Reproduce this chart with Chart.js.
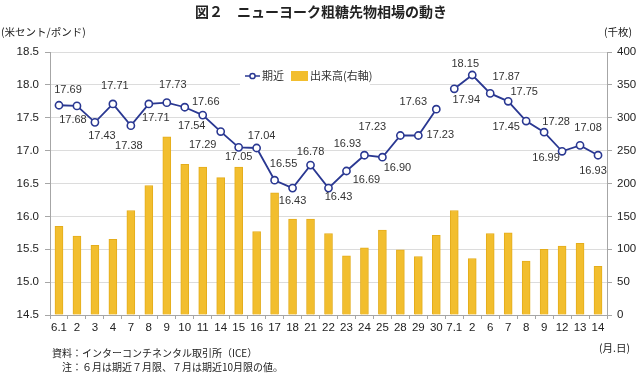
<!DOCTYPE html>
<html>
<head>
<meta charset="utf-8">
<script src="https://cdn.jsdelivr.net/npm/chart.js@4/dist/chart.umd.min.js"></script>
<style>
  body { margin: 0; background: #fff; }
  canvas { display: block; }
</style>
</head>
<body>
<canvas id="chart" width="640" height="377"></canvas>
<script>
// 日付（月.日）
const dates = ['6.1', '2', '3', '4', '7', '8', '9', '10', '11', '14', '15', '16', '17', '18', '21',
  '22', '23', '24', '25', '28', '29', '30', '7.1', '2', '6', '7', '8', '9', '12', '13', '14'];

// 期近（米セント/ポンド）
const nearby = [17.69, 17.68, 17.43, 17.71, 17.38, 17.71, 17.73, 17.66, 17.54, 17.29, 17.05, 17.04,
  16.55, 16.43, 16.78, 16.43, 16.69, 16.93, 16.90, 17.23, 17.23, 17.63,
  17.94, 18.15, 17.87, 17.75, 17.45, 17.28, 16.99, 17.08, 16.93];

// 出来高（千枚、右軸）
const volume = [135, 120, 106, 115, 159, 197, 271, 229, 225, 209, 225, 127, 186, 146, 146,
  124, 90, 102, 129, 99, 89, 121, 159, 86, 124, 125, 82, 100, 105, 109, 74];

// 限月が切り替わる位置（この点の後で線を切る）
const breakAfter = 21;

// ラベルの位置（点からのずれ）
const labelOffsets = [
  [9, -15], [-4, 14], [7, 14], [2, -18], [-2, 20], [7, 14], [6, -18], [21, -5], [-11, 11], [-18, 13],
  [0, 10], [5, -12], [9, -16], [0, 13], [0, -13], [10, 9], [20, 9], [-17, -11], [15, 11], [-28, -9],
  [22, -1], [-23, -7], [12, 11], [-7, -11], [16, -16], [16, -9], [-20, 6], [12, -10], [-16, 7], [8, -17],
  [-5, 16]
];

const blue = '#2A3892';
const gold = '#F2BE2E';
const numFont = '"Liberation Sans", Arial, sans-serif';
const jpFont = '"Noto Sans CJK JP", sans-serif';

const pointLabels = {
  id: 'pointLabels',
  afterDatasetsDraw(chart) {
    const ctx = chart.ctx;
    const meta = chart.getDatasetMeta(1);
    ctx.save();
    ctx.font = '11px ' + numFont;
    ctx.fillStyle = '#333';
    ctx.textAlign = 'center';
    ctx.textBaseline = 'middle';
    meta.data.forEach((pt, i) => {
      const off = labelOffsets[i];
      ctx.fillText(nearby[i].toFixed(2), pt.x + off[0], pt.y + off[1]);
    });
    ctx.restore();
  }
};

const legendBox = {
  id: 'legendBox',
  beforeDatasetsDraw(chart) {
    const ctx = chart.ctx;
    ctx.save();
    ctx.fillStyle = '#fff';
    ctx.fillRect(240, 64, 130, 23);
    // 期近
    ctx.strokeStyle = blue;
    ctx.lineWidth = 1.5;
    ctx.beginPath();
    ctx.moveTo(245, 76);
    ctx.lineTo(260, 76);
    ctx.stroke();
    ctx.beginPath();
    ctx.arc(252.5, 76, 2.6, 0, Math.PI * 2);
    ctx.fillStyle = '#fff';
    ctx.fill();
    ctx.stroke();
    ctx.fillStyle = '#333';
    ctx.font = '11px ' + jpFont;
    ctx.textBaseline = 'middle';
    ctx.fillText('期近', 262, 76);
    // 出来高
    ctx.fillStyle = gold;
    ctx.fillRect(291, 71, 17, 10);
    ctx.fillStyle = '#333';
    ctx.fillText('出来高(右軸)', 310, 76);
    ctx.restore();
  }
};

const texts = {
  id: 'texts',
  afterDraw(chart) {
    const ctx = chart.ctx;
    ctx.save();
    ctx.fillStyle = '#222';
    ctx.textBaseline = 'middle';
    ctx.textAlign = 'center';
    ctx.font = 'bold 14px ' + jpFont;
    ctx.fillText('図２　ニューヨーク粗糖先物相場の動き', 321, 12);
    ctx.font = '10.5px ' + jpFont;
    ctx.textAlign = 'left';
    ctx.fillText('(米セント/ポンド)', 1, 32);
    ctx.textAlign = 'right';
    ctx.fillText('(千枚)', 632, 32);
    ctx.fillText('(月.日)', 630, 348);
    ctx.textAlign = 'left';
    ctx.font = '10px ' + jpFont;
    ctx.fillText('資料：インターコンチネンタル取引所（ICE）', 52, 353);
    ctx.fillText('注：６月は期近７月限、７月は期近10月限の値。', 62, 367);
    ctx.restore();
  }
};

new Chart(document.getElementById('chart'), {
  data: {
    labels: dates,
    datasets: [{
      type: 'bar',
      label: '出来高(右軸)',
      data: volume,
      yAxisID: 'y1',
      backgroundColor: gold,
      borderColor: '#E4AD1C',
      borderWidth: 1,
      barThickness: 8,
      order: 1
    }, {
      type: 'line',
      label: '期近',
      data: nearby,
      yAxisID: 'y',
      borderColor: blue,
      borderWidth: 1.8,
      pointRadius: 3.6,
      pointBorderWidth: 1.6,
      pointBackgroundColor: '#fff',
      pointBorderColor: blue,
      tension: 0,
      segment: {
        borderColor: c => c.p0DataIndex === breakAfter ? 'rgba(0,0,0,0)' : blue
      },
      order: 0
    }]
  },
  options: {
    responsive: false,
    animation: false,
    layout: { padding: { top: 52, left: 0, right: 0, bottom: 0 } },
    scales: {
      x: {
        offset: true,
        grid: {
          offset: true,
          drawOnChartArea: false,
          tickLength: 4,
          color: '#A6A6A6'
        },
        border: { color: '#A6A6A6' },
        ticks: {
          autoSkip: false,
          maxRotation: 0,
          padding: 2,
          color: '#222',
          font: { family: numFont, size: 11.5 }
        },
        afterFit: s => { s.height = 62; }
      },
      y: {
        position: 'left',
        min: 14.5,
        max: 18.5,
        ticks: {
          stepSize: 0.5,
          padding: 6,
          color: '#222',
          font: { family: numFont, size: 11.5 },
          callback: v => v.toFixed(1)
        },
        grid: {
          color: '#DCDCDC',
          tickColor: '#A6A6A6',
          tickLength: 5
        },
        border: { color: '#A6A6A6' },
        afterFit: s => { s.width = 50; }
      },
      y1: {
        position: 'right',
        min: 0,
        max: 400,
        ticks: {
          stepSize: 50,
          padding: 5,
          color: '#222',
          font: { family: numFont, size: 11.5 }
        },
        grid: {
          drawOnChartArea: false,
          tickColor: '#A6A6A6',
          tickLength: 5
        },
        border: { color: '#A6A6A6' },
        afterFit: s => { s.width = 33; }
      }
    },
    plugins: {
      legend: { display: false },
      tooltip: { enabled: false }
    }
  },
  plugins: [legendBox, pointLabels, texts]
});
</script>
</body>
</html>
